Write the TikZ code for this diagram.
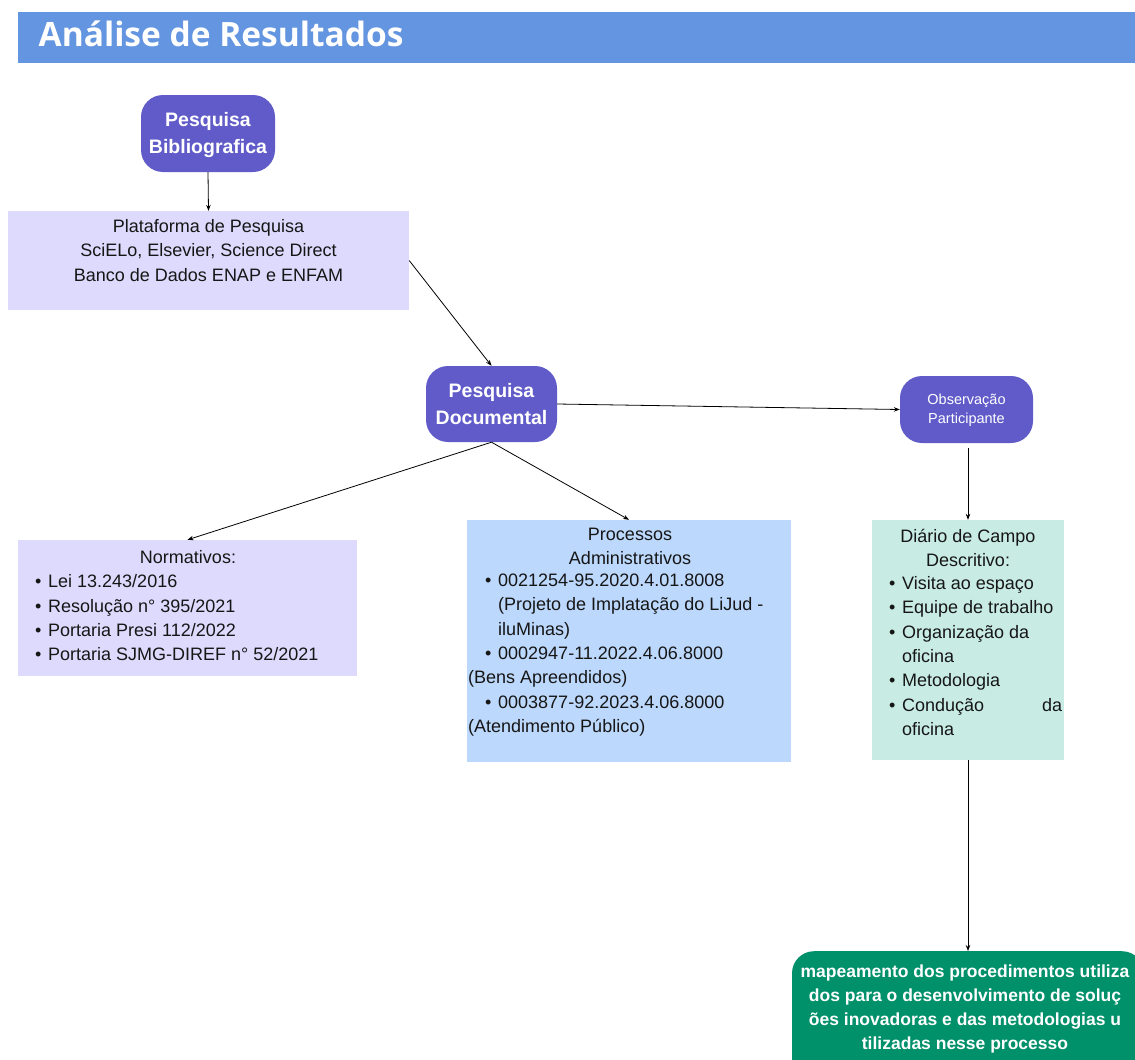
\documentclass[tikz,border=0pt]{standalone}
\usepackage{fontspec}
\setmainfont{Liberation Sans}
\newfontfamily\titlefont{Open Sans}
\usetikzlibrary{arrows.meta}

\definecolor{barblue}{RGB}{99,149,224}
\definecolor{violetnode}{RGB}{96,91,200}
\definecolor{lavenderfill}{RGB}{222,218,253}
\definecolor{skyfill}{RGB}{188,216,252}
\definecolor{mintfill}{RGB}{200,236,227}
\definecolor{greenfill}{RGB}{0,144,106}
\definecolor{inktext}{RGB}{22,22,22}

% bullet with a fixed-width slot before the item text
\newcommand\bitem{\makebox[13pt][l]{\textbullet}}

\begin{document}
\begin{tikzpicture}[x=1pt,y=-1pt,
  pillbox/.style={rectangle, rounded corners=22pt, fill=violetnode, inner sep=0pt},
  plainbox/.style={rectangle, inner sep=0pt},
  boldlabel/.style={text=white, align=center, inner sep=0pt,
    font=\fontsize{19.5}{27}\selectfont\bfseries},
  bodytext/.style={text=inktext, inner sep=0pt,
    font=\fontsize{18}{24.3}\selectfont},
  conn/.style={draw=black, line width=0.8pt, -{Stealth[length=6pt,width=4.5pt]}}
]
\useasboundingbox (0,0) rectangle (1135,1060);
\clip (0,0) rectangle (1135,1060);

% header band
\fill[barblue] (18,12) rectangle (1135,63);
\node[anchor=base west, text=white, inner sep=0pt,
  font=\fontsize{33.5}{36}\titlefont\bfseries] (title) at (38.5,46.5)
  {Análise de Resultados};

% boxes
\node[pillbox, minimum width=134pt, minimum height=77pt] (biblio) at (208,133.5) {};
\node[plainbox, fill=lavenderfill, minimum width=401pt, minimum height=99pt] (plat) at (208.5,260.5) {};
\node[pillbox, minimum width=131pt, minimum height=76pt] (doc) at (491.5,404) {};
\node[pillbox, minimum width=133pt, minimum height=67pt] (obs) at (966.5,409.5) {};
\node[plainbox, fill=lavenderfill, minimum width=339pt, minimum height=136pt] (norm) at (187.5,608) {};
\node[plainbox, fill=skyfill, minimum width=324pt, minimum height=242pt] (proc) at (629,641) {};
\node[plainbox, fill=mintfill, minimum width=192pt, minimum height=240pt] (diario) at (968,640) {};
\node[pillbox, fill=greenfill, anchor=north, minimum width=352pt, minimum height=140pt] (result) at (968,951) {};

% labels
\node[boldlabel] (bibliotext) at (208,135) {Pesquisa\\Bibliografica};
\node[boldlabel] (doctext) at (491.5,404.5) {Pesquisa\\Documental};
\node[text=white, align=center, inner sep=0pt,
  font=\fontsize{14.5}{19}\selectfont] (obstext) at (966.5,410.5) {Observação\\Participante};

\node[bodytext, align=center] (plattext) at (208.5,250.5)
  {Plataforma de Pesquisa\\SciELo, Elsevier, Science Direct\\Banco de Dados ENAP e ENFAM};

\node[bodytext] (normhead) at (188,557) {Normativos:};
\node[bodytext, align=left, anchor=west] (normlist) at (35,618)
  {\bitem Lei 13.243/2016\\
   \bitem Resolução n° 395/2021\\
   \bitem Portaria Presi 112/2022\\
   \bitem Portaria SJMG-DIREF n° 52/2021};

\node[bodytext, align=center] (prochead) at (630,546.5) {Processos\\Administrativos};
\node[bodytext, align=left, anchor=west] (proclist) at (468,655)
  {\hspace*{17pt}\bitem 0021254-95.2020.4.01.8008\\
   \hspace*{30pt}(Projeto de Implatação do LiJud -\\
   \hspace*{30pt}iluMinas)\\
   \hspace*{17pt}\bitem 0002947-11.2022.4.06.8000\\
   (Bens Apreendidos)\\
   \hspace*{17pt}\bitem 0003877-92.2023.4.06.8000\\
   (Atendimento Público)};

\node[bodytext, align=center] (diariohead) at (968,548) {Diário de Campo\\Descritivo:};
\node[bodytext, align=left, anchor=west] (diariolist) at (889,656)
  {\bitem Visita ao espaço\\
   \bitem Equipe de trabalho\\
   \bitem Organização da\\
   \hspace*{13pt}oficina\\
   \bitem Metodologia\\
   \bitem \makebox[160pt][l]{Condução\hfill da}\\
   \hspace*{13pt}oficina};

\node[text=white, align=center, inner sep=0pt,
  font=\fontsize{17.5}{24}\selectfont\bfseries] (resulttext) at (965,1009)
  {mapeamento dos procedimentos utiliza\\dos para o desenvolvimento de soluç\\ões inovadoras e das metodologias u\\tilizadas nesse processo};

% connectors
\draw[conn] (biblio.south) -- (plat.north);
\draw[conn] (plat.east) -- (doc.north);
\draw[conn] (doc.east) -- (obs.west);
\draw[conn] (doc.south) -- (norm.north);
\draw[conn] (doc.south) -- (proc.north);
\draw[conn, shorten <=5pt] (obs.south -| diario.north) -- (diario.north);
\draw[conn] (diario.south) -- (result.north);
\end{tikzpicture}
\end{document}
